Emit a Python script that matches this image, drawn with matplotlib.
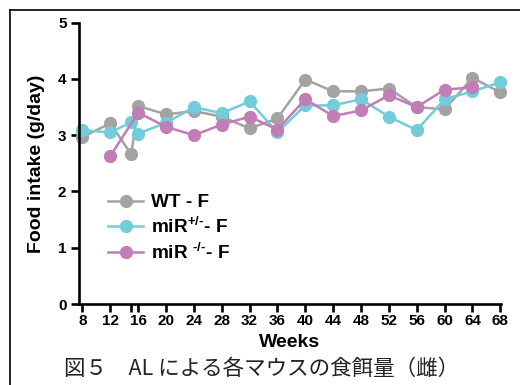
import numpy as np
import matplotlib
matplotlib.use('Agg')
import matplotlib.pyplot as plt
from matplotlib.lines import Line2D

plt.rcParams['font.family'] = ['Liberation Sans', 'DejaVu Sans']
plt.rcParams['font.weight'] = 'bold'
plt.rcParams['mathtext.fontset'] = 'custom'
plt.rcParams['mathtext.rm'] = 'Liberation Sans:bold'
plt.rcParams['mathtext.bf'] = 'Liberation Sans:bold'
plt.rcParams['mathtext.default'] = 'bf'

# weeks measured (15 is an extra point just before 16)
weeks_wt = [8, 12, 15, 16, 20, 24, 28, 32, 36, 40, 44, 48, 52, 56, 60, 64, 68]
wt_f = [2.97, 3.21, 2.66, 3.52, 3.37, 3.43, 3.33, 3.12, 3.30, 3.99, 3.78, 3.78, 3.83, 3.50, 3.46, 4.02, 3.76]

weeks_het = [8, 12, 15, 16, 20, 24, 28, 32, 36, 40, 44, 48, 52, 56, 60, 64, 68]
het_f = [3.09, 3.05, 3.23, 3.03, 3.22, 3.50, 3.39, 3.60, 3.05, 3.53, 3.53, 3.64, 3.33, 3.09, 3.64, 3.78, 3.94]

weeks_ko = [12, 16, 20, 24, 28, 32, 36, 40, 44, 48, 52, 56, 60, 64]
ko_f = [2.63, 3.40, 3.15, 3.00, 3.19, 3.33, 3.10, 3.64, 3.34, 3.44, 3.71, 3.50, 3.81, 3.85]

xticks = [8, 12, 15, 16, 20, 24, 28, 32, 36, 40, 44, 48, 52, 56, 60, 64, 68]
xticklabels = ['8', '12', '', '16', '20', '24', '28', '32', '36', '40', '44', '48', '52', '56', '60', '64', '68']

c_wt = '#a3a3a3'
c_het = '#72ccda'
c_ko = '#c27cb6'

fig = plt.figure(figsize=(5.2, 3.85), dpi=100)
ax = fig.add_axes([79/520, 1 - 304/385, 422/520, (304 - 22.7)/385])

ax.plot(weeks_wt, wt_f, '-o', color=c_wt, lw=1.8, ms=8.5, label='WT - F', clip_on=False)
ax.plot(weeks_het, het_f, '-o', color=c_het, lw=1.8, ms=8.5, label=r'miR$^{+/\text{-}}$- F', clip_on=False)
ax.plot(weeks_ko, ko_f, '-o', color=c_ko, lw=1.8, ms=8.5, label=r'miR $^{\text{-}/\text{-}}$- F', clip_on=False)

ax.set_xlim(7.5, 68.1)
ax.set_ylim(0, 5)
ax.set_xticks(xticks)
ax.set_xticklabels(xticklabels)
ax.set_yticks([0, 1, 2, 3, 4, 5])
for s in ['top', 'right']:
    ax.spines[s].set_visible(False)
for s in ['left', 'bottom']:
    ax.spines[s].set_linewidth(1.9)
ax.tick_params(axis='x', direction='out', length=5.5, width=1.9, labelsize=11, pad=2)
ax.tick_params(axis='y', direction='out', length=5.5, width=1.9, labelsize=11, pad=3.5)
ax.set_ylabel('Food intake (g/day)', fontsize=14, fontweight='bold', labelpad=9)
ax.set_xlabel('Weeks', fontsize=14, fontweight='bold', labelpad=4)

ax.legend(loc='upper left', bbox_to_anchor=(108/520, 1 - 194/385), bbox_transform=fig.transFigure,
          frameon=False, fontsize=13.7, handlelength=1.85, handletextpad=0.4,
          labelspacing=0.3, borderpad=0, borderaxespad=0)

# frame around the figure (cut off at right and bottom)
fig.add_artist(Line2D([10/520, 1], [1 - 10/385, 1 - 10/385], color='black', lw=1.2, transform=fig.transFigure))
fig.add_artist(Line2D([10/520, 10/520], [0, 1 - 10/385], color='black', lw=1.2, transform=fig.transFigure))

fig.text(64/520, 1 - 369/385, '図５　AL による各マウスの食餌量（雌）', fontsize=15.5,
         family=['Noto Sans CJK JP', 'DejaVu Sans'], fontweight='normal', va='center', ha='left', color='#222222')

fig.savefig('out.png', dpi=100)
